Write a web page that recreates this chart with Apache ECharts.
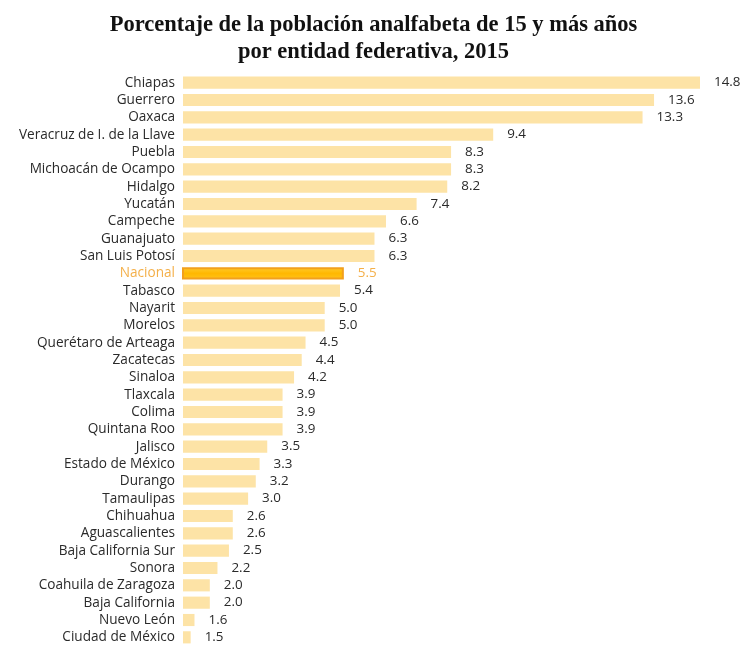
<!DOCTYPE html>
<html><head><meta charset="utf-8">
<script src="https://cdn.jsdelivr.net/npm/echarts@6/dist/echarts.min.js"></script>
<style>html,body{margin:0;padding:0;background:#fff}#c{width:747px;height:646px}</style>
</head><body><div id="c"></div>
<script>
const categories = ["Chiapas","Guerrero","Oaxaca","Veracruz de I. de la Llave","Puebla","Michoacán de Ocampo","Hidalgo","Yucatán","Campeche","Guanajuato","San Luis Potosí","Nacional","Tabasco","Nayarit","Morelos","Querétaro de Arteaga","Zacatecas","Sinaloa","Tlaxcala","Colima","Quintana Roo","Jalisco","Estado de México","Durango","Tamaulipas","Chihuahua","Aguascalientes","Baja California Sur","Sonora","Coahuila de Zaragoza","Baja California","Nuevo León","Ciudad de México"];
const values = [14.8,13.6,13.3,9.4,8.3,8.3,8.2,7.4,6.6,6.3,6.3,5.5,5.4,5.0,5.0,4.5,4.4,4.2,3.9,3.9,3.9,3.5,3.3,3.2,3.0,2.6,2.6,2.5,2.2,2.0,2.0,1.6,1.5];
const highlight = "Nacional";

const data = values.map((v, i) => {
  const isH = categories[i] === highlight;
  return isH ? {
    value: v,
    itemStyle: {
      color: new echarts.graphic.LinearGradient(0,0,0,1,[
        {offset:0,color:'#FFCB2E'},{offset:0.5,color:'#FFB800'},{offset:1,color:'#FFC21A'}]),
      borderColor: '#F2A01C', borderWidth: 2
    },
    label: { color: '#F4B04A' }
  } : v;
});

const chart = echarts.init(document.getElementById('c'));
chart.setOption({
  animation: false,
  backgroundColor: '#fff',
  title: {
    text: 'Porcentaje de la población analfabeta de 15 y más años\npor entidad federativa, 2015',
    left: 'center', top: 7,
    textStyle: { fontFamily: 'Liberation Serif', fontWeight: 'bold', fontSize: 22.5, lineHeight: 27, color: '#111' }
  },
  grid: { left: 183, right: 47, top: 74, bottom: 0, containLabel: false },
  xAxis: { type: 'value', min: 1.3, max: 14.8, show: false },
  yAxis: {
    type: 'category', data: categories, inverse: true,
    axisLine: { show: false }, axisTick: { show: false },
    axisLabel: {
      interval: 0, hideOverlap: false,
      margin: 8, fontFamily: 'Open Sans', fontSize: 13.6, lineHeight: 15, color: '#2a2a2a',
      formatter: v => v === highlight ? '{h|' + v + '}' : v,
      rich: { h: { color: '#F4B04A', fontFamily: 'Open Sans', fontSize: 13.6, lineHeight: 15 } }
    }
  },
  series: [{
    type: 'bar', data: data, barCategoryGap: '30%',
    itemStyle: { color: '#FDE3A6' },
    label: {
      show: true, position: 'right', distance: 14,
      fontFamily: 'Open Sans', fontSize: 13.4, color: '#2a2a2a',
      formatter: p => p.value.toFixed(1)
    }
  }]
});
</script></body></html>
